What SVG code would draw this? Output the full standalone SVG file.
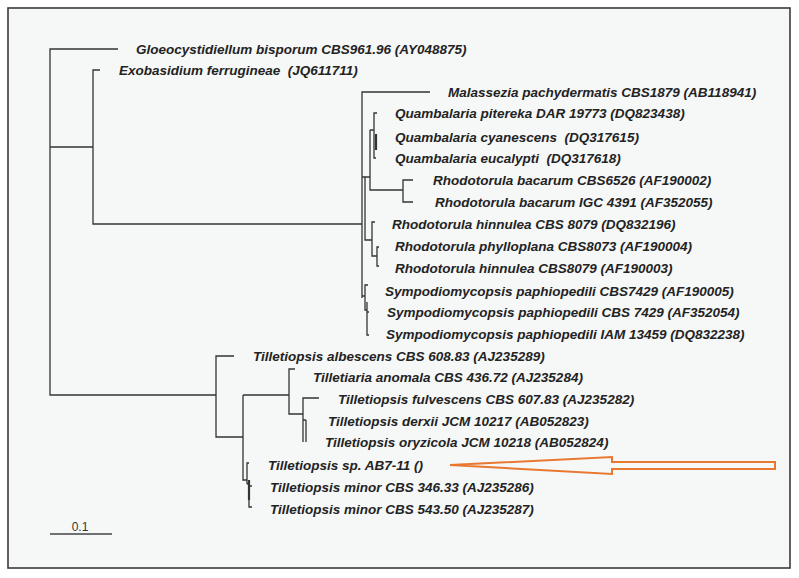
<svg xmlns="http://www.w3.org/2000/svg" width="799" height="578" viewBox="0 0 799 578">
<style>
.t{font-family:"Liberation Sans",Arial,sans-serif;font-size:13.5px;font-weight:bold;font-style:italic;fill:#232323;white-space:pre}
.e{fill:none;stroke:#333;stroke-width:1.3}
.th{fill:none;stroke:#333;stroke-width:2.2}
.s{font-family:"Liberation Sans",Arial,sans-serif;font-size:12px;fill:#333}
</style>
<rect x="0" y="0" width="799" height="578" fill="#ffffff"/>
<rect x="8" y="8" width="782" height="560" fill="#f6f8f8" stroke="#3a3a3a" stroke-width="1.6"/>
<g id="connectors">
<path class="e" d="M118,49 H50 V395 H216 M50,147 H93 M100,70 H93 V224 H362"/>
<path class="e" d="M430,92 H362 V298 M362,177 H365 V240 H372 M365,177 H370 V190 H403 M370,130 V177 M370,130 H374 M377,113 H374 V158 H376 M413,180 H403 V202 H413"/>
<path class="th" d="M376,134 V150"/>
<path class="e" d="M375,222 H372 V256 H377 M379,247 H377 V266 H379"/>
<path class="e" d="M362,296 H365 M368,285 H365 V310 H367 M369,312 H367 M367,302 V335 H369"/>
<path class="e" d="M234,356 H216 V437 H243 M243,395 V480 H247 M243,395 H289 M295,369 H289 V414 H303 M319,398 H303 V442 M303,420 H306 M306,420 V442"/>
<path class="e" d="M249,463 H247 V484 M247,484 H249 V507 H252 M249,486 H252"/>
<path class="th" d="M249,480 V500"/>
</g>
<g id="n_gloeo"><text class="t" x="136" y="54">Gloeocystidiellum bisporum CBS961.96 (AY048875)</text></g>
<g id="n_exo"><text class="t" x="119" y="75" xml:space="preserve">Exobasidium ferrugineae  (JQ611711)</text></g>
<g id="n_mal"><text class="t" x="448" y="97">Malassezia pachydermatis CBS1879 (AB118941)</text></g>
<g id="n_qpit"><text class="t" x="395" y="118">Quambalaria pitereka DAR 19773 (DQ823438)</text></g>
<g id="n_qcya"><text class="t" x="395" y="142" xml:space="preserve">Quambalaria cyanescens  (DQ317615)</text></g>
<g id="n_qeuc"><text class="t" x="395" y="163" xml:space="preserve">Quambalaria eucalypti  (DQ317618)</text></g>
<g id="n_rbac1"><text class="t" x="433" y="185">Rhodotorula bacarum CBS6526 (AF190002)</text></g>
<g id="n_rbac2"><text class="t" x="435" y="207">Rhodotorula bacarum IGC 4391 (AF352055)</text></g>
<g id="n_rhin1"><text class="t" x="392" y="229">Rhodotorula hinnulea CBS 8079 (DQ832196)</text></g>
<g id="n_rphy"><text class="t" x="395" y="251">Rhodotorula phylloplana CBS8073 (AF190004)</text></g>
<g id="n_rhin2"><text class="t" x="395" y="273">Rhodotorula hinnulea CBS8079 (AF190003)</text></g>
<g id="n_sym1"><text class="t" x="385" y="296">Sympodiomycopsis paphiopedili CBS7429 (AF190005)</text></g>
<g id="n_sym2"><text class="t" x="387" y="317">Sympodiomycopsis paphiopedili CBS 7429 (AF352054)</text></g>
<g id="n_sym3"><text class="t" x="386" y="339">Sympodiomycopsis paphiopedili IAM 13459 (DQ832238)</text></g>
<g id="n_talb"><text class="t" x="253" y="361">Tilletiopsis albescens CBS 608.83 (AJ235289)</text></g>
<g id="n_tano"><text class="t" x="313" y="382">Tilletiaria anomala CBS 436.72 (AJ235284)</text></g>
<g id="n_tful"><text class="t" x="338" y="404">Tilletiopsis fulvescens CBS 607.83 (AJ235282)</text></g>
<g id="n_tder"><text class="t" x="328" y="426">Tilletiopsis derxii JCM 10217 (AB052823)</text></g>
<g id="n_tory"><text class="t" x="325" y="447">Tilletiopsis oryzicola JCM 10218 (AB052824)</text></g>
<g id="n_tsp"><text class="t" x="268" y="470">Tilletiopsis sp. AB7-11 ()</text></g>
<g id="n_tmin1"><text class="t" x="270" y="492">Tilletiopsis minor CBS 346.33 (AJ235286)</text></g>
<g id="n_tmin2"><text class="t" x="270" y="514">Tilletiopsis minor CBS 543.50 (AJ235287)</text></g>
<g id="arrow"><polygon points="450,465 612,457 612,462 775,462 775,469 612,469 612,474" fill="none" stroke="#e8782f" stroke-width="2" stroke-linejoin="miter"/></g>
<g id="scale"><path d="M50,534 H112" stroke="#444" stroke-width="1.3" fill="none"/><text class="s" x="80" y="531" text-anchor="middle">0.1</text></g>
</svg>
